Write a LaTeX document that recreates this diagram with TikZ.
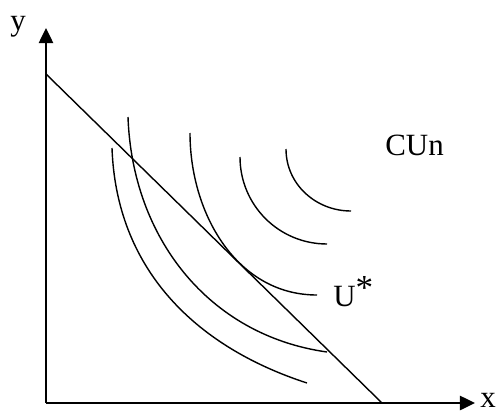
\documentclass[tikz,border=0pt]{standalone}
\usepackage{fontspec}
\setmainfont{Liberation Serif}
\usetikzlibrary{arrows.meta}
\tikzset{
    axis/.style={line width=1.3pt, -{Triangle[length=0.38cm, width=0.36cm]}},
    curva/.style={line width=1pt},
    etichetta/.style={font=\fontsize{22}{26}\selectfont, inner sep=0pt, anchor=base west}
}
\begin{document}
\begin{tikzpicture}
    \useasboundingbox (-1.15,-0.225) rectangle (11.45,10.075);
    % Coordinate
    \coordinate (O) at (0,0);
    \coordinate (Y) at (0,9.375);
    \coordinate (X) at (10.725,0);
    \coordinate (B1) at (0,8.225);
    \coordinate (B2) at (8.4,0);
    % Assi
    \draw [axis] (O) -- (Y); % asse y
    \draw [axis] (O) -- (X); % asse x
    % Vincolo di bilancio
    \draw [curva] (B1) -- (B2);
    % Curve di indifferenza
    \draw [curva] (1.65,6.375) to [out=-88,in=162] (6.525,0.5);
    \draw [curva] (2.05,7.15) to [out=-88,in=172] (7.025,1.275);
    \draw [curva] (3.6,6.75) to [out=-90,in=180] (6.775,2.7);
    \draw [curva] (4.85,6.15) to [out=-90,in=180] (7.025,3.975);
    \draw [curva] (6.0,6.35) to [out=-90,in=180] (7.625,4.8);
    % Etichette
    \node [etichetta] (ly) at (-0.9,9.3) {y};
    \node [etichetta] (lx) at (10.85,-0.12) {x};
    \node [etichetta] (lcun) at (8.475,6.2) {CUn};
    \node [etichetta] (lu) at (7.175,2.425) {U\raisebox{0.17cm}{\fontsize{25}{25}\selectfont *}};
\end{tikzpicture}
\end{document}
